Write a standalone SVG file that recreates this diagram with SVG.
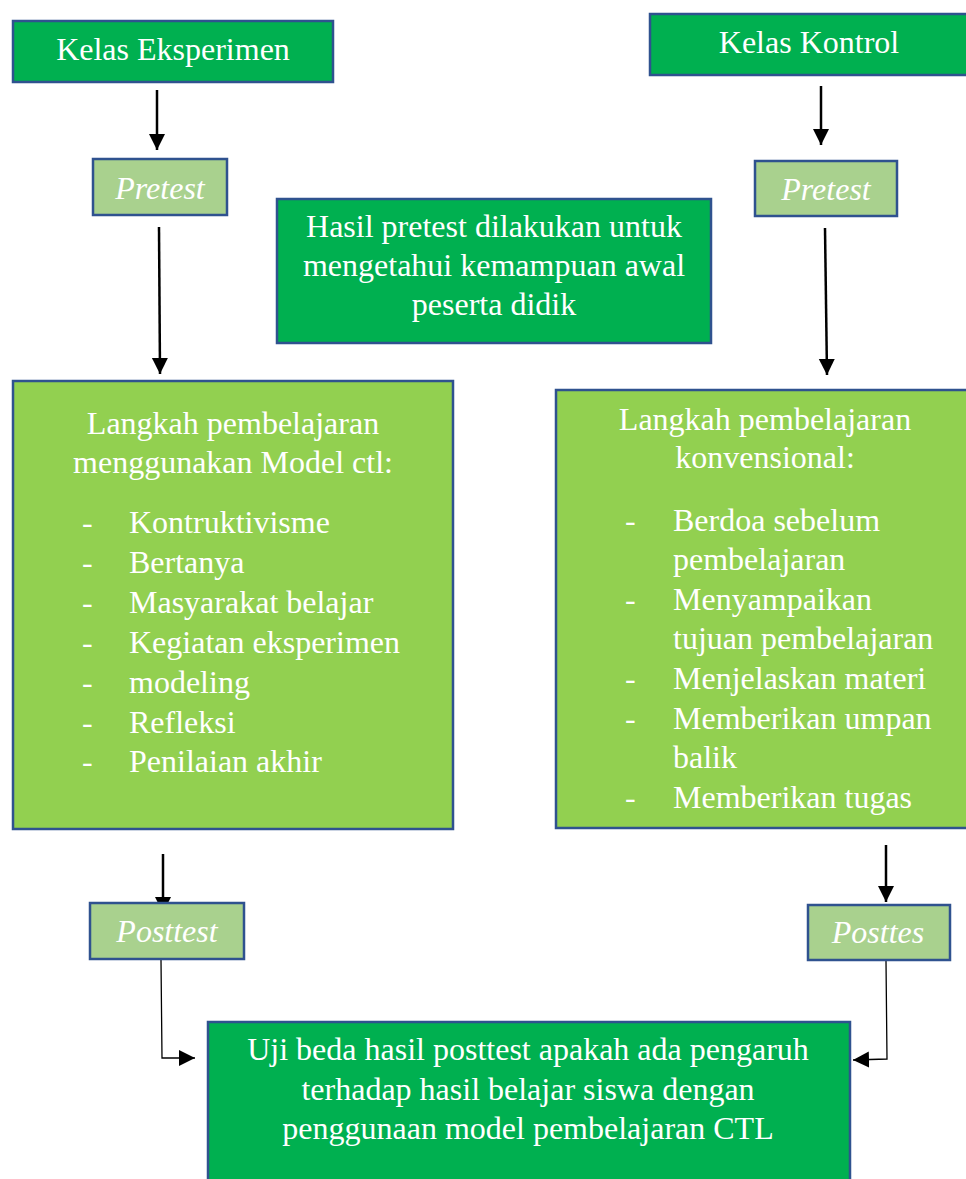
<svg xmlns="http://www.w3.org/2000/svg" width="966" height="1179" viewBox="0 0 966 1179">
<style>
.dg{fill:#00B050;stroke:#2F528F;stroke-width:2.5}
.lg{fill:#92D050;stroke:#2F528F;stroke-width:2.5}
.pg{fill:#A9D18E;stroke:#2F528F;stroke-width:2.5}
text{font-family:"Liberation Serif","Times New Roman",serif;font-size:32px;fill:#FFFFFF}
.c{text-anchor:middle}
.i{font-style:italic}
.ar{stroke:#000;stroke-width:2.5;fill:none}
.th{stroke:#000;stroke-width:1.3;fill:none}
</style>
<defs>
<marker id="ah" markerUnits="userSpaceOnUse" markerWidth="18" markerHeight="18" refX="16" refY="8" orient="auto">
<path d="M0,0 L16,8 L0,16 Z" fill="#000"/>
</marker>
</defs>
<g id="connectors">
<line class="ar" x1="157" y1="90" x2="157" y2="150" marker-end="url(#ah)"/>
<line class="ar" x1="821" y1="86" x2="821" y2="145" marker-end="url(#ah)"/>
<line class="ar" x1="159" y1="227" x2="160" y2="374" marker-end="url(#ah)"/>
<line class="ar" x1="825" y1="228" x2="827" y2="375" marker-end="url(#ah)"/>
<line class="ar" x1="163" y1="854" x2="163" y2="913" marker-end="url(#ah)"/>
<line class="ar" x1="886" y1="845" x2="886" y2="902" marker-end="url(#ah)"/>
<polyline class="th" points="161,960 162,1058 195,1058" marker-end="url(#ah)"/>
<polyline class="th" points="886,961 887,1059 853,1060" marker-end="url(#ah)"/>
</g>
<g id="kelas-eksperimen">
<rect class="dg" x="13" y="21" width="320" height="61"/>
<text class="c" x="173" y="60">Kelas Eksperimen</text>
</g>
<g id="kelas-kontrol">
<rect class="dg" x="650" y="14" width="330" height="61"/>
<text class="c" x="809" y="53">Kelas Kontrol</text>
</g>
<g id="pretest-left">
<rect class="pg" x="93" y="159" width="134" height="56"/>
<text class="c i" x="160" y="199">Pretest</text>
</g>
<g id="pretest-right">
<rect class="pg" x="755" y="161" width="142" height="55"/>
<text class="c i" x="826" y="200">Pretest</text>
</g>
<g id="hasil-pretest">
<rect class="dg" x="277" y="199" width="434" height="144"/>
<text class="c" x="494" y="237">Hasil pretest dilakukan untuk</text>
<text class="c" x="494" y="276">mengetahui kemampuan awal</text>
<text class="c" x="494" y="315">peserta didik</text>
</g>
<g id="langkah-ctl">
<rect class="lg" x="13" y="381" width="440" height="448"/>
<text class="c" x="233" y="434">Langkah pembelajaran</text>
<text class="c" x="233" y="473">menggunakan Model ctl:</text>
<text x="82" y="533">-</text><text x="129" y="533">Kontruktivisme</text>
<text x="82" y="573">-</text><text x="129" y="573">Bertanya</text>
<text x="82" y="613">-</text><text x="129" y="613">Masyarakat belajar</text>
<text x="82" y="653">-</text><text x="129" y="653">Kegiatan eksperimen</text>
<text x="82" y="693">-</text><text x="129" y="693">modeling</text>
<text x="82" y="733">-</text><text x="129" y="733">Refleksi</text>
<text x="82" y="772">-</text><text x="129" y="772">Penilaian akhir</text>
</g>
<g id="langkah-konvensional">
<rect class="lg" x="556" y="390" width="430" height="438"/>
<text class="c" x="765" y="430">Langkah pembelajaran</text>
<text class="c" x="765" y="468">konvensional:</text>
<text x="625" y="531">-</text><text x="673" y="531">Berdoa sebelum</text>
<text x="673" y="570">pembelajaran</text>
<text x="625" y="610">-</text><text x="673" y="610">Menyampaikan</text>
<text x="673" y="649">tujuan pembelajaran</text>
<text x="625" y="689">-</text><text x="673" y="689">Menjelaskan materi</text>
<text x="625" y="729">-</text><text x="673" y="729">Memberikan umpan</text>
<text x="673" y="768">balik</text>
<text x="625" y="808">-</text><text x="673" y="808">Memberikan tugas</text>
</g>
<g id="posttest-left">
<rect class="pg" x="90" y="903" width="154" height="56"/>
<text class="c i" x="167" y="942">Posttest</text>
</g>
<g id="posttes-right">
<rect class="pg" x="808" y="905" width="142" height="55"/>
<text class="c i" x="878" y="943">Posttes</text>
</g>
<g id="uji-beda">
<rect class="dg" x="208" y="1022" width="642" height="170"/>
<text class="c" x="528" y="1060">Uji beda hasil posttest apakah ada pengaruh</text>
<text class="c" x="528" y="1100">terhadap hasil belajar siswa dengan</text>
<text class="c" x="528" y="1139">penggunaan model pembelajaran CTL</text>
</g>
</svg>
